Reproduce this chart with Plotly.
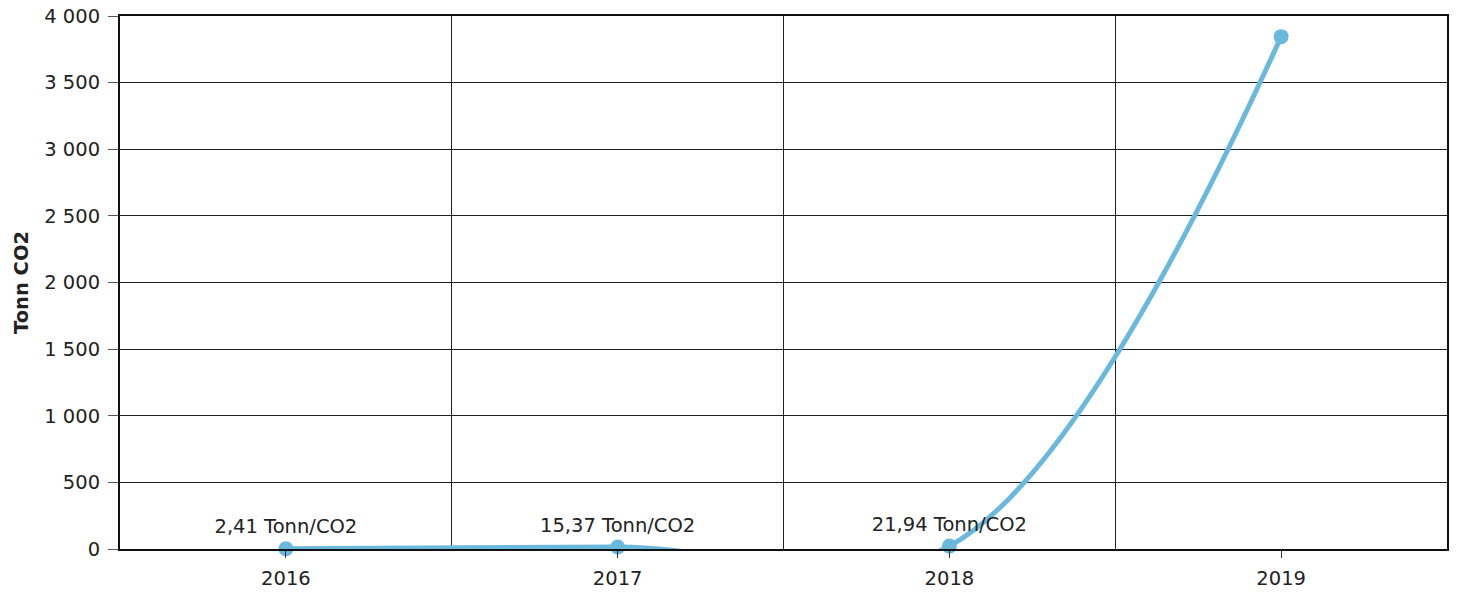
import plotly.graph_objects as go

years = ["2016", "2017", "2018", "2019"]
values = [2.41, 15.37, 21.94, 3845]
label_shown = [True, True, True, False]
unit = "Tonn/CO2"

y_title = "Tonn CO2"
y_ticks = [0, 500, 1000, 1500, 2000, 2500, 3000, 3500, 4000]

line_color = "#6BB8DD"
font_family = "DejaVu Sans, Verdana, sans-serif"
fs = 19.5

x_idx = list(range(len(years)))
labels = [
    (f"{v:.2f}".replace(".", ",") + " " + unit) if show else ""
    for v, show in zip(values, label_shown)
]

fig = go.Figure()
fig.add_trace(go.Scatter(
    x=x_idx,
    y=values,
    mode="lines+markers+text",
    line=dict(color=line_color, width=5, shape="spline", smoothing=1),
    marker=dict(color=line_color, size=15),
    text=labels,
    textposition="top center",
    textfont=dict(family=font_family, size=fs, color="#222222"),
    cliponaxis=False,
    showlegend=False,
))

fig.update_layout(
    width=1457,
    height=594,
    margin=dict(l=120, r=10, t=16, b=45, autoexpand=False),
    paper_bgcolor="white",
    plot_bgcolor="white",
    font=dict(family=font_family, size=fs, color="#222222"),
    separators=", ",
    xaxis=dict(
        range=[-0.5, len(years) - 0.5],
        tickmode="array",
        tickvals=x_idx,
        ticktext=years,
        showgrid=False,
        zeroline=False,
        automargin=False,
        ticks="outside",
        ticklen=7,
        tickcolor="#333333",
        ticklabelstandoff=4,
        showline=True,
        linecolor="#111111",
        linewidth=2,
        mirror=True,
        minor=dict(tick0=0.5, dtick=1, showgrid=True, gridcolor="#222222",
                   gridwidth=1, ticks=""),
        tickfont=dict(size=fs),
    ),
    yaxis=dict(
        range=[0, 4000],
        tickmode="array",
        tickvals=y_ticks,
        tickformat=",d",
        showgrid=True,
        gridcolor="#222222",
        gridwidth=1,
        zeroline=False,
        automargin=False,
        ticks="outside",
        ticklen=10,
        tickcolor="#555555",
        ticklabelstandoff=4,
        ticklabeloverflow="allow",
        showline=True,
        linecolor="#111111",
        linewidth=2,
        mirror=True,
        title=dict(text="<b>" + y_title + "</b>", font=dict(size=fs), standoff=10),
        tickfont=dict(size=fs),
    ),
)

fig.write_html(
    "out.html",
    config={"displayModeBar": False},
    post_script="document.body.style.margin='0';document.body.style.overflow='hidden';",
)
